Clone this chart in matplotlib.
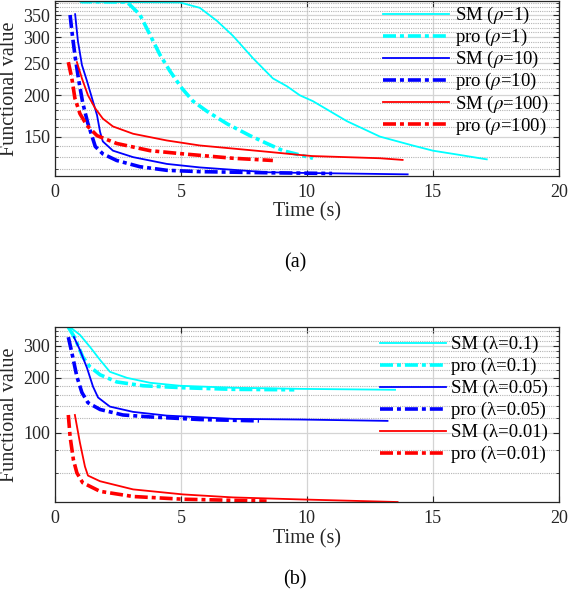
import numpy as np
import matplotlib
matplotlib.use("Agg")
import matplotlib.pyplot as plt
from matplotlib.ticker import FixedLocator, NullFormatter

plt.rcParams['font.family'] = ['Liberation Serif', 'DejaVu Serif']
plt.rcParams['mathtext.fontset'] = 'stix'

# ---- panel (a): rho sweep ----
t_sm1 = [0.5, 1.0, 2.9, 4.96, 5.75, 6.43, 7.06, 7.86, 8.65, 9.21, 9.72, 10.24, 11.59, 12.9, 14.2, 15.0, 16.07, 17.14]
v_sm1 = [420, 384, 383, 382, 368, 336, 303, 259, 225, 213, 200, 192, 167, 150, 141, 136, 132, 128]
t_pro1 = [0.8, 1.07, 2.86, 3.37, 3.77, 4.17, 4.56, 5.04, 5.48, 6.03, 6.83, 7.74, 8.41, 9.05, 9.72, 10.24]
v_pro1 = [420, 384, 383, 351, 305, 265, 237, 210, 192, 179, 164, 151, 143, 136, 132, 129]
t_sm10 = [0.8, 0.91, 1.07, 1.27, 1.47, 1.67, 1.79, 1.9, 2.3, 3.1, 4.44, 5.75, 8.41, 9.72, 14.0]
v_sm10 = [352, 292, 247, 221, 196, 174, 155, 145, 136, 130, 124, 121, 117, 116.5, 115.3]
t_pro10 = [0.6, 0.67, 0.79, 0.93, 1.1, 1.3, 1.6, 1.9, 2.45, 3.37, 4.44, 5.75, 8.4, 11.0]
v_pro10 = [350, 313, 265, 225, 190, 165, 140, 133, 127, 121.6, 118.6, 117.5, 116.6, 116]
t_sm100 = [0.87, 1.07, 1.31, 1.59, 1.9, 2.3, 3.1, 4.44, 5.75, 8.41, 9.72, 10.2, 12.9, 13.8]
v_sm100 = [252, 225, 200, 183, 170, 161, 153, 146, 141, 135, 132, 131, 129, 127.5]
t_pro100 = [0.53, 0.67, 0.79, 0.99, 1.27, 1.67, 2.45, 3.77, 5.08, 7.06, 8.65]
v_pro100 = [252, 225, 196, 176, 162, 151, 143, 136, 133, 129, 127]

# ---- panel (b): lambda sweep ----
t_sm01 = [0.6, 0.99, 1.39, 1.79, 2.18, 2.86, 3.77, 4.96, 7.06, 9.72, 13.5]
v_sm01 = [380, 345, 296, 251, 216, 200, 188, 181, 176.5, 174, 172]
t_pro01 = [0.53, 0.79, 1.1, 1.39, 1.79, 2.45, 3.5, 5.08, 7.06, 9.5]
v_pro01 = [380, 332, 261, 230, 208, 190, 181, 176.5, 173, 172]
t_sm005 = [0.75, 0.99, 1.27, 1.51, 1.71, 2.18, 3.1, 4.44, 7.06, 9.72, 13.2]
v_sm005 = [336, 285, 227, 179, 156, 139, 130, 124, 119, 118, 116]
t_pro005 = [0.53, 0.67, 0.87, 1.07, 1.31, 1.79, 2.7, 3.77, 5.75, 8.1]
v_pro005 = [335, 275, 203, 166, 146, 134, 125, 122, 118, 116]
t_sm001 = [0.79, 0.99, 1.19, 1.31, 1.79, 3.1, 5.08, 7.06, 9.72, 13.6]
v_sm001 = [125, 88, 65, 58, 54, 48.7, 45.7, 44, 42.9, 41.5]
t_pro001 = [0.53, 0.6, 0.73, 0.87, 1.1, 1.79, 3.1, 5.08, 8.4]
v_pro001 = [125, 95, 71, 60, 53, 47.5, 44.5, 43, 42]

yticks_a = [150, 200, 250, 300, 350]
yminor_a = [v for v in range(110, 400, 10) if v not in yticks_a]
yticks_b = [100, 200, 300]
yminor_b = [v for v in range(40, 400, 20) if v not in yticks_b]

CYAN, BLUE, RED = '#00ffff', '#0000ff', '#ff0000'
DASH = (3.6, 1.1, 1.1, 1.1)


def style_axes(ax, ylim, major, minor):
	ax.set_yscale('log')
	ax.set_xlim(0, 20)
	ax.set_ylim(*ylim)
	ax.set_xticks([0, 5, 10, 15, 20])
	ax.yaxis.set_major_locator(FixedLocator(major))
	ax.yaxis.set_minor_locator(FixedLocator(minor))
	ax.yaxis.set_major_formatter(plt.FixedFormatter([str(v) for v in major]))
	ax.yaxis.set_minor_formatter(NullFormatter())
	ax.grid(True, which='major', color='#d4d4d4', lw=0.9, ls='-')
	ax.grid(True, which='minor', axis='y', color='#b4b4b4', lw=0.8, ls=(0, (1, 1)))
	ax.set_axisbelow(True)
	ax.tick_params(direction='in', which='both', top=True, right=True, labelsize=13, colors='#262626')
	ax.tick_params(axis='x', pad=6)
	ax.tick_params(axis='y', pad=3.5)
	ax.tick_params(which='major', length=4)
	ax.tick_params(which='minor', length=2.5)
	for s in ax.spines.values():
		s.set_color('#262626')
		s.set_linewidth(0.9)
	ax.set_xlabel('Time (s)', fontsize=14.5, color='#262626', labelpad=1)
	ax.set_ylabel('Functional value', fontsize=14.5, color='#262626', labelpad=3)


fig = plt.figure(figsize=(5.68, 6.0), dpi=100)

ax1 = fig.add_axes([0.0968, 0.7067, 0.887, 0.2917])
ax1.plot(t_sm1, v_sm1, color=CYAN, lw=1.3, label='SM ($\\rho$=1)')
ax1.plot(t_pro1, v_pro1, color=CYAN, lw=2.6, dashes=DASH, label='pro ($\\rho$=1)')
ax1.plot(t_sm10, v_sm10, color=BLUE, lw=1.3, label='SM ($\\rho$=10)')
ax1.plot(t_pro10, v_pro10, color=BLUE, lw=2.6, dashes=DASH, label='pro ($\\rho$=10)')
ax1.plot(t_sm100, v_sm100, color=RED, lw=1.3, label='SM ($\\rho$=100)')
ax1.plot(t_pro100, v_pro100, color=RED, lw=2.6, dashes=DASH, label='pro ($\\rho$=100)')
style_axes(ax1, (114, 386), yticks_a, yminor_a)
ax1.legend(loc='upper right', bbox_to_anchor=(0.99, 1.008), frameon=False, fontsize=13.5,
	handlelength=3.5, handletextpad=0.3, labelspacing=0.05, borderaxespad=0.1, borderpad=0.2)

ax2 = fig.add_axes([0.0968, 0.1633, 0.887, 0.2917])
ax2.plot(t_sm01, v_sm01, color=CYAN, lw=1.3, label='SM (λ=0.1)')
ax2.plot(t_pro01, v_pro01, color=CYAN, lw=2.6, dashes=DASH, label='pro (λ=0.1)')
ax2.plot(t_sm005, v_sm005, color=BLUE, lw=1.3, label='SM (λ=0.05)')
ax2.plot(t_pro005, v_pro005, color=BLUE, lw=2.6, dashes=DASH, label='pro (λ=0.05)')
ax2.plot(t_sm001, v_sm001, color=RED, lw=1.3, label='SM (λ=0.01)')
ax2.plot(t_pro001, v_pro001, color=RED, lw=2.6, dashes=DASH, label='pro (λ=0.01)')
style_axes(ax2, (41.5, 381), yticks_b, yminor_b)
ax2.legend(loc='upper right', bbox_to_anchor=(0.99, 0.98), frameon=False, fontsize=13.5,
	handlelength=3.5, handletextpad=0.3, labelspacing=0.25, borderaxespad=0.1, borderpad=0.2)

fig.text(0.52, 0.562, '(a)', ha='center', va='center', fontsize=14.5)
fig.text(0.52, 0.033, '(b)', ha='center', va='center', fontsize=14.5)

fig.savefig('out.png', dpi=100)
